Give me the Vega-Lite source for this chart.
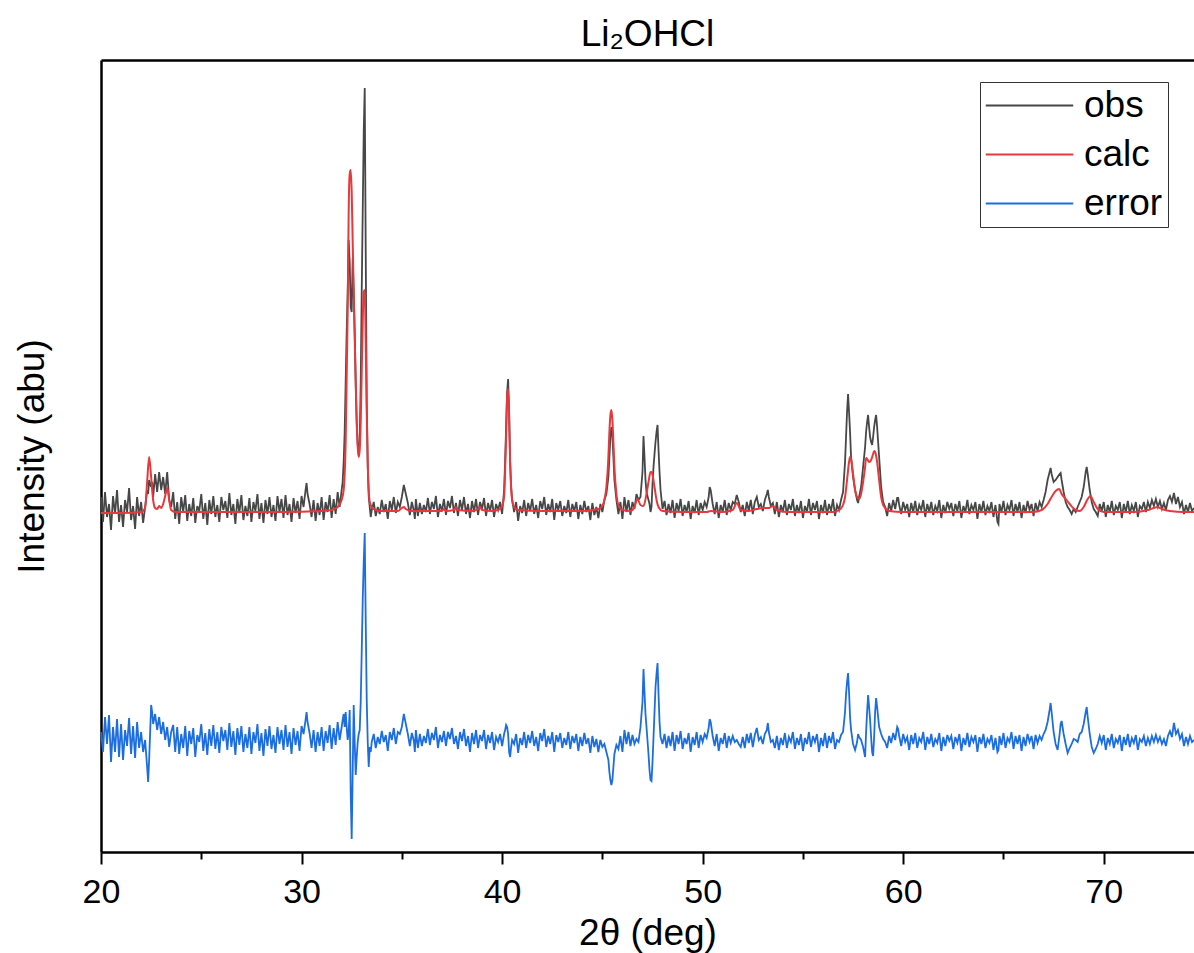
{
  "$schema": "https://vega.github.io/schema/vega-lite/v6.json",
  "width": 1093,
  "height": 792,
  "autosize": {"type": "none"},
  "padding": {"left": 101, "top": 60, "right": 0, "bottom": 101},
  "background": "white",
  "title": {"text": "Li₂OHCl", "font": "Liberation Sans", "fontSize": 37, "fontWeight": "normal", "color": "black", "offset": 6, "anchor": "middle"},
  "config": {
    "view": {"stroke": null},
    "axis": {"grid": false, "domainColor": "black", "domainWidth": 2.5, "tickColor": "black", "tickWidth": 2, "labelFont": "Liberation Sans", "titleFont": "Liberation Sans", "labelColor": "black", "titleColor": "black", "titleFontWeight": "normal"},
    "line": {"strokeWidth": 1.8, "clip": true}
  },
  "datasets": {
    "m": [
      {"t":20.0,"o":355,"e":120},{"t":20.1,"o":330,"e":100},{"t":20.2,"o":360,"e":135},{"t":20.3,"o":335,"e":108},{"t":20.4,"o":348,"e":137},{"t":20.5,"o":322,"e":90},{"t":20.6,"o":356,"e":125},{"t":20.7,"o":338,"e":100},{"t":20.8,"o":362,"e":133},{"t":20.9,"o":330,"e":95},
      {"t":21.0,"o":347,"e":128},{"t":21.1,"o":325,"e":92},{"t":21.2,"o":352,"e":122},{"t":21.3,"o":340,"e":106},{"t":21.4,"o":364,"e":134},{"t":21.5,"o":332,"e":98},{"t":21.6,"o":346,"e":126},{"t":21.7,"o":323,"e":94},{"t":21.8,"o":355,"e":130},{"t":21.9,"o":336,"e":104},
      {"t":22.0,"o":350,"e":120},{"t":22.1,"o":329,"e":100},{"t":22.2,"o":345,"e":112},{"t":22.3,"o":362,"e":85},{"t":22.35,"o":358,"e":70},{"t":22.4,"o":372,"e":92},{"t":22.5,"o":365,"e":147},{"t":22.55,"o":370,"e":140},{"t":22.6,"o":355,"e":128},{"t":22.7,"o":378,"e":138},{"t":22.8,"o":360,"e":122},{"t":22.9,"o":380,"e":135},
      {"t":23.0,"o":362,"e":118},{"t":23.1,"o":375,"e":130},{"t":23.2,"o":358,"e":112},{"t":23.3,"o":380,"e":125},{"t":23.4,"o":352,"e":105},{"t":23.5,"o":345,"e":120},{"t":23.6,"o":360,"e":127},{"t":23.7,"o":333,"e":100},{"t":23.8,"o":350,"e":125},{"t":23.9,"o":328,"e":98},
      {"t":24.0,"o":355,"e":118},{"t":24.1,"o":340,"e":104},{"t":24.2,"o":357,"e":126},{"t":24.3,"o":331,"e":96},{"t":24.4,"o":348,"e":121},{"t":24.5,"o":336,"e":108},{"t":24.6,"o":354,"e":124},{"t":24.7,"o":329,"e":95},{"t":24.8,"o":346,"e":117},{"t":24.9,"o":341,"e":110},
      {"t":25.0,"o":358,"e":128},{"t":25.1,"o":333,"e":101},{"t":25.2,"o":349,"e":119},{"t":25.3,"o":327,"e":97},{"t":25.4,"o":352,"e":123},{"t":25.5,"o":338,"e":106},{"t":25.6,"o":356,"e":127},{"t":25.7,"o":335,"e":103},{"t":25.8,"o":347,"e":120},{"t":25.9,"o":330,"e":99},
      {"t":26.0,"o":355,"e":125},{"t":26.1,"o":342,"e":111},{"t":26.2,"o":351,"e":122},{"t":26.3,"o":334,"e":102},{"t":26.4,"o":359,"e":129},{"t":26.5,"o":337,"e":105},{"t":26.6,"o":348,"e":121},{"t":26.7,"o":328,"e":97},{"t":26.8,"o":353,"e":124},{"t":26.9,"o":339,"e":107},
      {"t":27.0,"o":357,"e":126},{"t":27.1,"o":332,"e":100},{"t":27.2,"o":346,"e":118},{"t":27.3,"o":336,"e":104},{"t":27.4,"o":354,"e":125},{"t":27.5,"o":330,"e":98},{"t":27.6,"o":350,"e":120},{"t":27.7,"o":341,"e":109},{"t":27.8,"o":358,"e":128},{"t":27.9,"o":333,"e":101},
      {"t":28.0,"o":349,"e":119},{"t":28.1,"o":329,"e":96},{"t":28.2,"o":352,"e":123},{"t":28.3,"o":338,"e":106},{"t":28.4,"o":355,"e":126},{"t":28.5,"o":335,"e":103},{"t":28.6,"o":347,"e":117},{"t":28.7,"o":331,"e":99},{"t":28.8,"o":356,"e":125},{"t":28.9,"o":340,"e":108},
      {"t":29.0,"o":353,"e":122},{"t":29.1,"o":334,"e":102},{"t":29.2,"o":357,"e":127},{"t":29.3,"o":337,"e":105},{"t":29.4,"o":348,"e":120},{"t":29.5,"o":330,"e":98},{"t":29.6,"o":354,"e":124},{"t":29.7,"o":339,"e":107},{"t":29.8,"o":351,"e":121},{"t":29.9,"o":333,"e":101},
      {"t":30.0,"o":356,"e":126},{"t":30.1,"o":345,"e":118},{"t":30.2,"o":362,"e":132},{"t":30.25,"o":369,"e":140},{"t":30.3,"o":358,"e":130},{"t":30.4,"o":348,"e":119},{"t":30.5,"o":335,"e":104},{"t":30.6,"o":352,"e":122},{"t":30.7,"o":331,"e":100},{"t":30.8,"o":349,"e":120},{"t":30.9,"o":337,"e":106},
      {"t":31.0,"o":355,"e":125},{"t":31.1,"o":332,"e":101},{"t":31.2,"o":350,"e":121},{"t":31.3,"o":340,"e":109},{"t":31.4,"o":357,"e":127},{"t":31.5,"o":334,"e":103},{"t":31.6,"o":353,"e":124},{"t":31.7,"o":338,"e":107},{"t":31.8,"o":360,"e":130},{"t":31.9,"o":345,"e":112},
      {"t":32.0,"o":362,"e":125},{"t":32.05,"o":370,"e":132},{"t":32.1,"o":390,"e":138},{"t":32.15,"o":420,"e":125},{"t":32.2,"o":470,"e":140},{"t":32.25,"o":520,"e":125},{"t":32.3,"o":560,"e":112},{"t":32.35,"o":612,"e":120},{"t":32.4,"o":590,"e":142},{"t":32.45,"o":545,"e":60},
      {"t":32.5,"o":540,"e":13},{"t":32.55,"o":594,"e":80},{"t":32.6,"o":560,"e":147},{"t":32.65,"o":520,"e":110},{"t":32.7,"o":470,"e":77},{"t":32.75,"o":430,"e":95},{"t":32.8,"o":408,"e":110},{"t":32.85,"o":397,"e":118},{"t":32.9,"o":412,"e":122},{"t":32.95,"o":470,"e":150},
      {"t":33.0,"o":560,"e":200},{"t":33.05,"o":640,"e":252},{"t":33.1,"o":720,"e":290},{"t":33.15,"o":764,"e":319},{"t":33.2,"o":600,"e":230},{"t":33.25,"o":450,"e":152},{"t":33.3,"o":385,"e":110},{"t":33.35,"o":355,"e":85},{"t":33.4,"o":345,"e":105},{"t":33.45,"o":335,"e":100},{"t":33.5,"o":342,"e":110},
      {"t":33.6,"o":350,"e":118},{"t":33.7,"o":336,"e":104},{"t":33.8,"o":345,"e":115},{"t":33.9,"o":338,"e":108},
      {"t":34.0,"o":352,"e":121},{"t":34.1,"o":340,"e":110},{"t":34.2,"o":348,"e":117},{"t":34.3,"o":333,"e":101},{"t":34.4,"o":351,"e":120},{"t":34.5,"o":342,"e":112},{"t":34.6,"o":355,"e":124},{"t":34.7,"o":339,"e":108},{"t":34.8,"o":350,"e":120},{"t":34.9,"o":345,"e":118},
      {"t":35.0,"o":355,"e":125},{"t":35.1,"o":367,"e":138},{"t":35.2,"o":358,"e":128},{"t":35.3,"o":349,"e":118},{"t":35.4,"o":337,"e":106},{"t":35.5,"o":350,"e":119},{"t":35.6,"o":341,"e":111},{"t":35.65,"o":333,"e":100},{"t":35.7,"o":353,"e":122},{"t":35.8,"o":336,"e":104},{"t":35.9,"o":349,"e":118},
      {"t":36.0,"o":338,"e":106},{"t":36.1,"o":347,"e":116},{"t":36.2,"o":340,"e":109},{"t":36.3,"o":354,"e":123},{"t":36.4,"o":338,"e":107},{"t":36.5,"o":350,"e":119},{"t":36.6,"o":343,"e":112},{"t":36.7,"o":356,"e":125},{"t":36.8,"o":335,"e":104},{"t":36.9,"o":348,"e":117},
      {"t":37.0,"o":341,"e":110},{"t":37.1,"o":353,"e":121},{"t":37.2,"o":337,"e":106},{"t":37.3,"o":351,"e":120},{"t":37.4,"o":344,"e":113},{"t":37.5,"o":356,"e":124},{"t":37.6,"o":339,"e":108},{"t":37.7,"o":349,"e":116},{"t":37.8,"o":336,"e":103},{"t":37.9,"o":352,"e":120},
      {"t":38.0,"o":342,"e":111},{"t":38.1,"o":355,"e":123},{"t":38.2,"o":338,"e":106},{"t":38.3,"o":348,"e":116},{"t":38.4,"o":334,"e":100},{"t":38.5,"o":351,"e":119},{"t":38.6,"o":340,"e":108},{"t":38.7,"o":353,"e":122},{"t":38.8,"o":337,"e":104},{"t":38.9,"o":350,"e":117},
      {"t":39.0,"o":343,"e":111},{"t":39.1,"o":354,"e":122},{"t":39.2,"o":336,"e":103},{"t":39.3,"o":349,"e":117},{"t":39.4,"o":341,"e":109},{"t":39.5,"o":352,"e":120},{"t":39.6,"o":335,"e":102},{"t":39.7,"o":348,"e":115},{"t":39.8,"o":342,"e":110},{"t":39.9,"o":350,"e":118},
      {"t":40.0,"o":338,"e":106},{"t":40.1,"o":362,"e":118},{"t":40.15,"o":390,"e":122},{"t":40.2,"o":425,"e":127},{"t":40.25,"o":460,"e":125},{"t":40.3,"o":473,"e":118},{"t":40.35,"o":440,"e":100},{"t":40.4,"o":390,"e":95},{"t":40.45,"o":365,"e":105},{"t":40.5,"o":352,"e":112},
      {"t":40.6,"o":340,"e":108},{"t":40.7,"o":350,"e":118},{"t":40.8,"o":331,"e":99},{"t":40.9,"o":346,"e":114},
      {"t":41.0,"o":339,"e":107},{"t":41.1,"o":352,"e":120},{"t":41.2,"o":336,"e":104},{"t":41.3,"o":349,"e":117},{"t":41.4,"o":341,"e":109},{"t":41.5,"o":353,"e":121},{"t":41.6,"o":338,"e":106},{"t":41.7,"o":347,"e":115},{"t":41.8,"o":334,"e":101},{"t":41.9,"o":351,"e":119},
      {"t":42.0,"o":343,"e":111},{"t":42.1,"o":355,"e":123},{"t":42.2,"o":337,"e":105},{"t":42.3,"o":348,"e":116},{"t":42.4,"o":340,"e":108},{"t":42.5,"o":353,"e":120},{"t":42.6,"o":332,"e":100},{"t":42.7,"o":349,"e":117},{"t":42.8,"o":342,"e":110},{"t":42.9,"o":351,"e":119},
      {"t":43.0,"o":336,"e":104},{"t":43.1,"o":346,"e":114},{"t":43.2,"o":339,"e":107},{"t":43.3,"o":352,"e":120},{"t":43.4,"o":335,"e":103},{"t":43.5,"o":348,"e":116},{"t":43.6,"o":341,"e":109},{"t":43.7,"o":350,"e":118},{"t":43.8,"o":333,"e":101},{"t":43.9,"o":347,"e":115},
      {"t":44.0,"o":338,"e":106},{"t":44.1,"o":351,"e":119},{"t":44.2,"o":340,"e":108},{"t":44.3,"o":346,"e":114},{"t":44.4,"o":332,"e":99},{"t":44.5,"o":349,"e":116},{"t":44.6,"o":337,"e":105},{"t":44.7,"o":345,"e":113},{"t":44.8,"o":334,"e":100},{"t":44.9,"o":348,"e":112},
      {"t":45.0,"o":340,"e":105},{"t":45.1,"o":352,"e":108},{"t":45.2,"o":358,"e":100},{"t":45.3,"o":375,"e":92},{"t":45.35,"o":395,"e":80},{"t":45.4,"o":415,"e":72},{"t":45.45,"o":425,"e":67},{"t":45.5,"o":415,"e":72},{"t":45.55,"o":395,"e":85},{"t":45.6,"o":372,"e":98},
      {"t":45.7,"o":352,"e":107},{"t":45.8,"o":338,"e":103},{"t":45.9,"o":350,"e":116},
      {"t":46.0,"o":333,"e":100},{"t":46.1,"o":355,"e":122},{"t":46.2,"o":340,"e":108},{"t":46.3,"o":352,"e":120},{"t":46.4,"o":337,"e":106},{"t":46.5,"o":350,"e":117},{"t":46.6,"o":343,"e":108},{"t":46.7,"o":358,"e":113},{"t":46.8,"o":352,"e":110},{"t":46.9,"o":355,"e":125},
      {"t":47.0,"o":380,"e":150},{"t":47.05,"o":416,"e":183},{"t":47.1,"o":395,"e":160},{"t":47.15,"o":372,"e":138},{"t":47.2,"o":360,"e":125},{"t":47.3,"o":352,"e":98},{"t":47.35,"o":348,"e":82},{"t":47.4,"o":340,"e":72},{"t":47.45,"o":345,"e":71},{"t":47.5,"o":368,"e":90},
      {"t":47.55,"o":385,"e":115},{"t":47.6,"o":398,"e":140},{"t":47.65,"o":410,"e":165},{"t":47.7,"o":420,"e":178},{"t":47.75,"o":427,"e":189},{"t":47.8,"o":402,"e":158},{"t":47.85,"o":380,"e":130},{"t":47.9,"o":362,"e":115},
      {"t":48.0,"o":343,"e":108},{"t":48.1,"o":351,"e":118},{"t":48.2,"o":337,"e":104},{"t":48.3,"o":348,"e":116},{"t":48.4,"o":339,"e":106},{"t":48.5,"o":352,"e":120},{"t":48.6,"o":334,"e":101},{"t":48.7,"o":349,"e":117},{"t":48.8,"o":341,"e":108},{"t":48.9,"o":353,"e":121},
      {"t":49.0,"o":336,"e":103},{"t":49.1,"o":347,"e":114},{"t":49.2,"o":340,"e":108},{"t":49.3,"o":351,"e":119},{"t":49.4,"o":333,"e":100},{"t":49.5,"o":346,"e":115},{"t":49.6,"o":339,"e":107},{"t":49.7,"o":352,"e":120},{"t":49.8,"o":337,"e":104},{"t":49.9,"o":349,"e":117},
      {"t":50.0,"o":342,"e":110},{"t":50.1,"o":350,"e":118},{"t":50.2,"o":345,"e":114},{"t":50.3,"o":355,"e":124},{"t":50.35,"o":365,"e":133},{"t":50.4,"o":362,"e":130},{"t":50.5,"o":348,"e":116},{"t":50.6,"o":338,"e":106},{"t":50.7,"o":350,"e":118},{"t":50.8,"o":334,"e":101},{"t":50.9,"o":347,"e":114},
      {"t":51.0,"o":340,"e":108},{"t":51.1,"o":352,"e":119},{"t":51.2,"o":337,"e":104},{"t":51.3,"o":349,"e":116},{"t":51.4,"o":342,"e":109},{"t":51.5,"o":350,"e":116},{"t":51.6,"o":348,"e":110},{"t":51.7,"o":357,"e":112},{"t":51.8,"o":350,"e":108},{"t":51.9,"o":340,"e":105},
      {"t":52.0,"o":347,"e":115},{"t":52.1,"o":336,"e":104},{"t":52.2,"o":350,"e":118},{"t":52.3,"o":341,"e":109},{"t":52.4,"o":352,"e":119},{"t":52.5,"o":338,"e":105},{"t":52.6,"o":350,"e":117},{"t":52.7,"o":355,"e":124},{"t":52.8,"o":345,"e":112},{"t":52.9,"o":348,"e":115},
      {"t":53.0,"o":341,"e":108},{"t":53.1,"o":352,"e":118},{"t":53.2,"o":358,"e":122},{"t":53.25,"o":362,"e":129},{"t":53.3,"o":355,"e":120},{"t":53.4,"o":346,"e":110},{"t":53.5,"o":349,"e":112},{"t":53.6,"o":338,"e":104},{"t":53.7,"o":350,"e":116},{"t":53.8,"o":335,"e":102},{"t":53.9,"o":347,"e":114},
      {"t":54.0,"o":340,"e":107},{"t":54.1,"o":352,"e":119},{"t":54.2,"o":337,"e":104},{"t":54.3,"o":348,"e":115},{"t":54.4,"o":342,"e":110},{"t":54.5,"o":353,"e":120},{"t":54.6,"o":336,"e":103},{"t":54.7,"o":347,"e":114},{"t":54.8,"o":339,"e":107},{"t":54.9,"o":351,"e":118},
      {"t":55.0,"o":334,"e":101},{"t":55.1,"o":346,"e":114},{"t":55.2,"o":340,"e":108},{"t":55.3,"o":353,"e":120},{"t":55.4,"o":337,"e":105},{"t":55.5,"o":349,"e":116},{"t":55.6,"o":342,"e":110},{"t":55.7,"o":351,"e":118},{"t":55.8,"o":333,"e":100},{"t":55.9,"o":347,"e":114},
      {"t":56.0,"o":339,"e":106},{"t":56.1,"o":352,"e":119},{"t":56.2,"o":337,"e":104},{"t":56.3,"o":348,"e":116},{"t":56.4,"o":341,"e":109},{"t":56.5,"o":353,"e":120},{"t":56.6,"o":336,"e":103},{"t":56.7,"o":347,"e":112},{"t":56.8,"o":342,"e":110},{"t":56.9,"o":352,"e":117},
      {"t":57.0,"o":360,"e":120},{"t":57.1,"o":390,"e":140},{"t":57.15,"o":415,"e":158},{"t":57.2,"o":440,"e":170},{"t":57.25,"o":458,"e":179},{"t":57.3,"o":440,"e":160},{"t":57.35,"o":420,"e":135},{"t":57.4,"o":395,"e":122},{"t":57.45,"o":385,"e":115},{"t":57.5,"o":375,"e":108},
      {"t":57.6,"o":362,"e":102},{"t":57.7,"o":352,"e":110},{"t":57.75,"o":349,"e":118},{"t":57.8,"o":355,"e":115},{"t":57.9,"o":365,"e":112},{"t":58.0,"o":385,"e":105},{"t":58.1,"o":405,"e":95},{"t":58.15,"o":420,"e":120},{"t":58.2,"o":430,"e":140},{"t":58.25,"o":437,"e":157},
      {"t":58.3,"o":425,"e":145},{"t":58.35,"o":415,"e":132},{"t":58.4,"o":410,"e":115},{"t":58.45,"o":407,"e":100},{"t":58.5,"o":415,"e":96},{"t":58.55,"o":425,"e":115},{"t":58.6,"o":432,"e":140},{"t":58.65,"o":437,"e":154},{"t":58.7,"o":425,"e":145},{"t":58.8,"o":395,"e":125},
      {"t":58.9,"o":365,"e":118},{"t":59.0,"o":350,"e":113},{"t":59.1,"o":345,"e":110},{"t":59.2,"o":336,"e":104},{"t":59.3,"o":349,"e":116},{"t":59.4,"o":341,"e":109},{"t":59.5,"o":352,"e":119},{"t":59.6,"o":343,"e":112},{"t":59.7,"o":354,"e":125},{"t":59.75,"o":354,"e":123},{"t":59.8,"o":347,"e":116},{"t":59.9,"o":338,"e":106},
      {"t":60.0,"o":350,"e":118},{"t":60.1,"o":342,"e":110},{"t":60.2,"o":348,"e":115},{"t":60.3,"o":335,"e":102},{"t":60.4,"o":349,"e":117},{"t":60.5,"o":340,"e":108},{"t":60.6,"o":351,"e":119},{"t":60.7,"o":337,"e":104},{"t":60.8,"o":347,"e":114},{"t":60.9,"o":342,"e":110},
      {"t":61.0,"o":352,"e":120},{"t":61.1,"o":335,"e":102},{"t":61.2,"o":348,"e":115},{"t":61.3,"o":340,"e":108},{"t":61.4,"o":350,"e":118},{"t":61.5,"o":337,"e":105},{"t":61.6,"o":346,"e":113},{"t":61.7,"o":341,"e":109},{"t":61.8,"o":352,"e":119},{"t":61.9,"o":334,"e":101},
      {"t":62.0,"o":347,"e":115},{"t":62.1,"o":339,"e":106},{"t":62.2,"o":350,"e":117},{"t":62.3,"o":343,"e":111},{"t":62.4,"o":349,"e":116},{"t":62.5,"o":336,"e":103},{"t":62.6,"o":348,"e":115},{"t":62.7,"o":341,"e":109},{"t":62.8,"o":351,"e":118},{"t":62.9,"o":334,"e":101},
      {"t":63.0,"o":346,"e":114},{"t":63.1,"o":340,"e":107},{"t":63.2,"o":352,"e":119},{"t":63.3,"o":338,"e":105},{"t":63.4,"o":347,"e":115},{"t":63.5,"o":342,"e":110},{"t":63.6,"o":350,"e":117},{"t":63.7,"o":333,"e":100},{"t":63.8,"o":348,"e":115},{"t":63.9,"o":340,"e":108},
      {"t":64.0,"o":351,"e":118},{"t":64.1,"o":337,"e":104},{"t":64.2,"o":346,"e":113},{"t":64.3,"o":341,"e":109},{"t":64.4,"o":350,"e":117},{"t":64.5,"o":335,"e":102},{"t":64.6,"o":347,"e":114},{"t":64.7,"o":330,"e":100},{"t":64.75,"o":328,"e":102},{"t":64.8,"o":348,"e":116},{"t":64.9,"o":340,"e":107},
      {"t":65.0,"o":351,"e":119},{"t":65.1,"o":337,"e":104},{"t":65.2,"o":347,"e":114},{"t":65.3,"o":342,"e":110},{"t":65.4,"o":352,"e":120},{"t":65.5,"o":336,"e":103},{"t":65.6,"o":348,"e":116},{"t":65.7,"o":340,"e":108},{"t":65.8,"o":350,"e":117},{"t":65.9,"o":334,"e":101},
      {"t":66.0,"o":347,"e":115},{"t":66.1,"o":339,"e":106},{"t":66.2,"o":351,"e":118},{"t":66.3,"o":342,"e":110},{"t":66.4,"o":348,"e":116},{"t":66.5,"o":336,"e":103},{"t":66.6,"o":349,"e":117},{"t":66.7,"o":341,"e":109},{"t":66.8,"o":350,"e":116},{"t":66.9,"o":345,"e":112},
      {"t":67.0,"o":352,"e":118},{"t":67.1,"o":360,"e":122},{"t":67.2,"o":372,"e":130},{"t":67.3,"o":380,"e":142},{"t":67.35,"o":384,"e":149},{"t":67.4,"o":378,"e":140},{"t":67.5,"o":370,"e":120},{"t":67.6,"o":372,"e":108},{"t":67.7,"o":375,"e":102},{"t":67.8,"o":378,"e":118},{"t":67.85,"o":379,"e":128},{"t":67.9,"o":372,"e":131},
      {"t":68.0,"o":360,"e":118},{"t":68.1,"o":350,"e":108},{"t":68.2,"o":345,"e":99},{"t":68.3,"o":342,"e":104},{"t":68.4,"o":338,"e":108},{"t":68.5,"o":343,"e":113},{"t":68.6,"o":340,"e":112},{"t":68.7,"o":345,"e":110},{"t":68.8,"o":350,"e":118},{"t":68.9,"o":355,"e":120},
      {"t":69.0,"o":365,"e":128},{"t":69.1,"o":380,"e":140},{"t":69.15,"o":385,"e":145},{"t":69.2,"o":378,"e":135},{"t":69.3,"o":362,"e":118},{"t":69.4,"o":350,"e":105},{"t":69.5,"o":343,"e":99},{"t":69.6,"o":340,"e":103},{"t":69.7,"o":336,"e":108},{"t":69.8,"o":348,"e":116},{"t":69.9,"o":341,"e":109},
      {"t":70.0,"o":350,"e":117},{"t":70.1,"o":335,"e":102},{"t":70.2,"o":347,"e":114},{"t":70.3,"o":340,"e":108},{"t":70.4,"o":351,"e":118},{"t":70.5,"o":337,"e":104},{"t":70.6,"o":346,"e":113},{"t":70.7,"o":342,"e":109},{"t":70.8,"o":350,"e":117},{"t":70.9,"o":334,"e":101},
      {"t":71.0,"o":348,"e":115},{"t":71.1,"o":340,"e":107},{"t":71.2,"o":351,"e":118},{"t":71.3,"o":338,"e":105},{"t":71.4,"o":347,"e":114},{"t":71.5,"o":341,"e":109},{"t":71.6,"o":350,"e":117},{"t":71.7,"o":335,"e":102},{"t":71.8,"o":346,"e":113},{"t":71.9,"o":343,"e":110},
      {"t":72.0,"o":350,"e":116},{"t":72.1,"o":340,"e":106},{"t":72.2,"o":350,"e":114},{"t":72.3,"o":344,"e":108},{"t":72.4,"o":352,"e":116},{"t":72.5,"o":346,"e":110},{"t":72.6,"o":353,"e":117},{"t":72.7,"o":345,"e":110},{"t":72.8,"o":351,"e":115},{"t":72.9,"o":343,"e":108},
      {"t":73.0,"o":349,"e":113},{"t":73.1,"o":342,"e":106},{"t":73.2,"o":352,"e":116},{"t":73.3,"o":356,"e":121},{"t":73.4,"o":350,"e":115},{"t":73.5,"o":359,"e":129},{"t":73.6,"o":348,"e":118},{"t":73.7,"o":355,"e":122},{"t":73.8,"o":345,"e":113},{"t":73.9,"o":350,"e":118},
      {"t":74.0,"o":338,"e":106},{"t":74.1,"o":347,"e":115},{"t":74.2,"o":340,"e":108},{"t":74.3,"o":349,"e":116},{"t":74.4,"o":341,"e":110},{"t":74.5,"o":344,"e":112}
    ],
    "c": [
      {"t":20.0,"c":339},{"t":21.0,"c":339},{"t":22.0,"c":340},{"t":22.2,"c":344},{"t":22.3,"c":370},{"t":22.4,"c":395},{"t":22.5,"c":375},{"t":22.6,"c":352},{"t":22.7,"c":344},{"t":22.8,"c":343},{"t":22.9,"c":346},{"t":23.0,"c":344},{"t":23.1,"c":348},{"t":23.2,"c":356},{"t":23.3,"c":364},{"t":23.4,"c":352},{"t":23.5,"c":342},{"t":23.7,"c":340},
      {"t":25.0,"c":340},{"t":27.0,"c":340},{"t":29.0,"c":340},{"t":31.0,"c":341},{"t":31.5,"c":342},{"t":31.8,"c":345},{"t":32.0,"c":352},{"t":32.1,"c":362},{"t":32.2,"c":410},{"t":32.3,"c":540},{"t":32.35,"c":640},{"t":32.4,"c":678},{"t":32.45,"c":682},{"t":32.5,"c":660},{"t":32.55,"c":610},
      {"t":32.6,"c":560},{"t":32.65,"c":515},{"t":32.7,"c":470},{"t":32.75,"c":430},{"t":32.8,"c":405},{"t":32.85,"c":395},{"t":32.9,"c":402},{"t":32.95,"c":430},{"t":33.0,"c":480},{"t":33.05,"c":530},{"t":33.1,"c":560},{"t":33.15,"c":562},{"t":33.2,"c":510},{"t":33.25,"c":440},{"t":33.3,"c":390},{"t":33.35,"c":362},{"t":33.4,"c":350},{"t":33.5,"c":345},{"t":33.7,"c":342},
      {"t":34.0,"c":341},{"t":34.8,"c":341},{"t":35.0,"c":344},{"t":35.1,"c":345},{"t":35.2,"c":343},{"t":35.5,"c":341},{"t":36.5,"c":341},{"t":37.0,"c":341},{"t":37.1,"c":343},{"t":37.2,"c":341},{"t":37.6,"c":342},{"t":37.7,"c":345},{"t":37.8,"c":342},{"t":38.5,"c":341},{"t":38.8,"c":343},{"t":38.9,"c":345},{"t":39.0,"c":342},{"t":39.5,"c":341},{"t":39.9,"c":343},
      {"t":40.0,"c":346},{"t":40.1,"c":355},{"t":40.15,"c":380},{"t":40.2,"c":415},{"t":40.25,"c":455},{"t":40.3,"c":463},{"t":40.35,"c":435},{"t":40.4,"c":390},{"t":40.45,"c":365},{"t":40.5,"c":352},{"t":40.6,"c":345},{"t":40.8,"c":342},{"t":42.0,"c":341},{"t":44.0,"c":341},{"t":44.8,"c":343},
      {"t":45.0,"c":346},{"t":45.1,"c":352},{"t":45.2,"c":365},{"t":45.3,"c":395},{"t":45.35,"c":420},{"t":45.4,"c":437},{"t":45.45,"c":442},{"t":45.5,"c":432},{"t":45.55,"c":410},{"t":45.6,"c":385},{"t":45.7,"c":358},{"t":45.8,"c":347},{"t":46.0,"c":342},{"t":46.4,"c":341},{"t":46.6,"c":345},{"t":46.75,"c":353},{"t":46.9,"c":347},
      {"t":47.05,"c":346},{"t":47.2,"c":358},{"t":47.3,"c":370},{"t":47.4,"c":380},{"t":47.45,"c":380},{"t":47.5,"c":377},{"t":47.6,"c":365},{"t":47.7,"c":352},{"t":47.8,"c":345},{"t":48.0,"c":341},{"t":49.0,"c":340},{"t":50.2,"c":340},{"t":50.4,"c":341},{"t":51.0,"c":340},{"t":51.5,"c":342},{"t":51.7,"c":349},{"t":51.9,"c":342},
      {"t":52.3,"c":341},{"t":52.7,"c":343},{"t":53.0,"c":344},{"t":53.3,"c":344},{"t":53.5,"c":346},{"t":53.7,"c":342},{"t":54.2,"c":340},{"t":56.5,"c":340},{"t":56.8,"c":342},{"t":57.0,"c":347},{"t":57.1,"c":355},{"t":57.2,"c":372},{"t":57.3,"c":390},{"t":57.35,"c":395},{"t":57.4,"c":393},{"t":57.5,"c":378},
      {"t":57.6,"c":362},{"t":57.7,"c":355},{"t":57.8,"c":353},{"t":57.9,"c":358},{"t":58.0,"c":370},{"t":58.1,"c":385},{"t":58.15,"c":394},{"t":58.2,"c":393},{"t":58.3,"c":390},{"t":58.4,"c":392},{"t":58.5,"c":398},{"t":58.55,"c":401},{"t":58.6,"c":400},{"t":58.7,"c":390},{"t":58.8,"c":372},{"t":58.9,"c":355},{"t":59.0,"c":347},{"t":59.1,"c":344},{"t":59.3,"c":341},
      {"t":60.0,"c":340},{"t":62.0,"c":340},{"t":64.0,"c":340},{"t":66.5,"c":340},{"t":66.9,"c":342},{"t":67.2,"c":348},{"t":67.4,"c":355},{"t":67.6,"c":361},{"t":67.78,"c":363},{"t":67.9,"c":358},{"t":68.1,"c":353},{"t":68.3,"c":348},{"t":68.6,"c":342},{"t":68.8,"c":341},
      {"t":69.0,"c":345},{"t":69.2,"c":353},{"t":69.33,"c":356},{"t":69.5,"c":350},{"t":69.7,"c":343},{"t":70.0,"c":340},{"t":71.5,"c":340},{"t":72.2,"c":342},{"t":72.5,"c":344},{"t":72.67,"c":345},{"t":72.9,"c":343},{"t":73.3,"c":341},{"t":74.0,"c":340},{"t":74.5,"c":340}
    ]
  },
  "layer": [
    {
      "data": {"name": "m"},
      "mark": {"type": "line"},
      "encoding": {
        "x": {"field": "t", "type": "quantitative", "scale": {"domain": [20, 74.5], "nice": false, "zero": false},
          "axis": {"orient": "bottom", "title": "2θ (deg)", "values": [20, 30, 40, 50, 60, 70], "tickSize": 12, "labelFontSize": 34, "titleFontSize": 37, "labelPadding": 11, "titlePadding": 6, "format": "d", "labelFlush": false}},
        "y": {"field": "o", "type": "quantitative", "scale": {"domain": [0, 792], "nice": false, "zero": false},
          "axis": {"title": "Intensity (abu)", "ticks": false, "labels": false, "titleFontSize": 37, "titlePadding": 50}},
        "color": {"datum": "obs", "type": "nominal",
          "scale": {"domain": ["obs", "calc", "error"], "range": ["#474747", "#e8383c", "#1c6ee0"]},
          "legend": {"title": null, "orient": "none", "legendX": 879, "legendY": 22, "direction": "vertical",
            "labelFontSize": 37, "labelFont": "Liberation Sans", "labelColor": "black",
            "symbolType": "M-2.5,0H2.5", "symbolSize": 1225, "symbolStrokeWidth": 2,
            "symbolOffset": 26, "labelOffset": 36, "rowPadding": 11, "padding": 5,
            "strokeColor": "#333333", "fillColor": "white"}}
      }
    },
    {
      "data": {"name": "m"},
      "mark": {"type": "line"},
      "encoding": {
        "x": {"field": "t", "type": "quantitative",
          "axis": {"orient": "bottom", "title": null, "values": [25, 35, 45, 55, 65], "tickSize": 7, "labels": false, "domain": false}},
        "y": {"field": "e", "type": "quantitative"},
        "color": {"datum": "error", "type": "nominal"}
      }
    },
    {
      "data": {"name": "c"},
      "mark": {"type": "line", "interpolate": "monotone", "strokeWidth": 2},
      "encoding": {
        "x": {"field": "t", "type": "quantitative",
          "axis": {"orient": "top", "title": null, "ticks": false, "labels": false, "domain": true}},
        "y": {"field": "c", "type": "quantitative"},
        "color": {"datum": "calc", "type": "nominal"}
      }
    }
  ],
  "resolve": {"axis": {"x": "independent"}}
}
